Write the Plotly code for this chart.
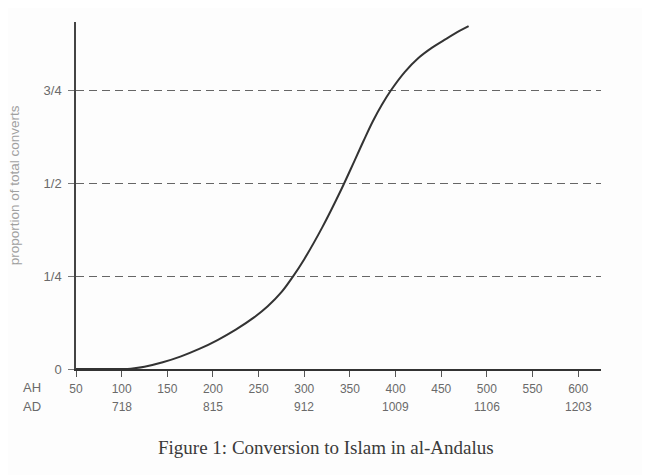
import plotly.graph_objects as go

# Curve: AH year vs proportion of total converts
ah_years = [50, 100, 110, 125, 145, 165, 185, 205, 225, 245, 260, 275, 287, 300,
            320, 340, 355, 365, 375, 385, 395, 410, 425, 440, 455, 470, 480]
proportion = [0, 0, 0.001, 0.006, 0.018, 0.034, 0.054, 0.078, 0.106, 0.139, 0.169,
              0.207, 0.247, 0.296, 0.383, 0.481, 0.561, 0.615, 0.667, 0.712, 0.751,
              0.800, 0.838, 0.866, 0.889, 0.911, 0.924]

ah_ticks = [50, 100, 150, 200, 250, 300, 350, 400, 450, 500, 550, 600]
ad_ticks_ah = [100, 200, 300, 400, 500, 600]
ad_labels = ["718", "815", "912", "1009", "1106", "1203"]

y_ticks = [0, 0.25, 0.5, 0.75]
y_labels = ["0", "1/4", "1/2", "3/4"]

label_color = "#6a6a6a"
font_family = "Liberation Sans, Arial, sans-serif"

fig = go.Figure()
fig.add_trace(go.Scatter(
    x=ah_years, y=proportion, mode="lines",
    line=dict(color="#333333", width=2, shape="spline", smoothing=1.0),
    hoverinfo="skip", showlegend=False,
))

annotations = []
# AD row
for a, lab in zip(ad_ticks_ah, ad_labels):
    annotations.append(dict(x=a, y=-0.109, xref="x", yref="paper", text=lab,
                            showarrow=False, xanchor="center", yanchor="middle",
                            font=dict(size=12, color=label_color, family=font_family)))
annotations.append(dict(x=-0.084, y=-0.052, xref="paper", yref="paper", text="AH",
                        showarrow=False, xanchor="center", yanchor="middle",
                        font=dict(size=13, color=label_color, family=font_family)))
annotations.append(dict(x=-0.084, y=-0.109, xref="paper", yref="paper", text="AD",
                        showarrow=False, xanchor="center", yanchor="middle",
                        font=dict(size=13, color=label_color, family=font_family)))
# y title
annotations.append(dict(x=-0.117, y=0.528, xref="paper", yref="paper",
                        text="proportion of total converts", textangle=-90,
                        showarrow=False, xanchor="center", yanchor="middle",
                        font=dict(size=13.5, color="#a0a0a0", family=font_family)))
# caption
annotations.append(dict(x=0.477, y=-0.227, xref="paper", yref="paper",
                        text="Figure 1: Conversion to Islam in al-Andalus",
                        showarrow=False, xanchor="center", yanchor="middle",
                        font=dict(size=19, color="#3a3a3a",
                                  family="Liberation Serif, Times New Roman, serif")))

fig.update_layout(
    width=642, height=467,
    margin=dict(l=68, r=49, t=14, b=106),
    paper_bgcolor="#fdfdfd", plot_bgcolor="#fdfdfd",
    showlegend=False,
    annotations=annotations,
    xaxis=dict(
        range=[50, 625], tickmode="array", tickvals=ah_ticks,
        ticktext=[str(t) for t in ah_ticks],
        showgrid=False, zeroline=False,
        showline=True, linecolor="#333333", linewidth=2,
        ticks="outside", ticklen=6, tickwidth=1, tickcolor="#555555",
        tickfont=dict(size=12, color=label_color, family=font_family),
        ticklabelstandoff=2,
    ),
    yaxis=dict(
        range=[0, 0.935], tickmode="array", tickvals=y_ticks, ticktext=y_labels,
        showgrid=True, gridcolor="#666666", gridwidth=1, griddash="8px,5px",
        zeroline=False,
        showline=True, linecolor="#444444", linewidth=1.5,
        ticks="outside", ticklen=6, tickwidth=1, tickcolor="#777777",
        tickfont=dict(size=13, color=label_color, family=font_family),
        ticklabelstandoff=4,
    ),
)

fig.write_html("out.html")
